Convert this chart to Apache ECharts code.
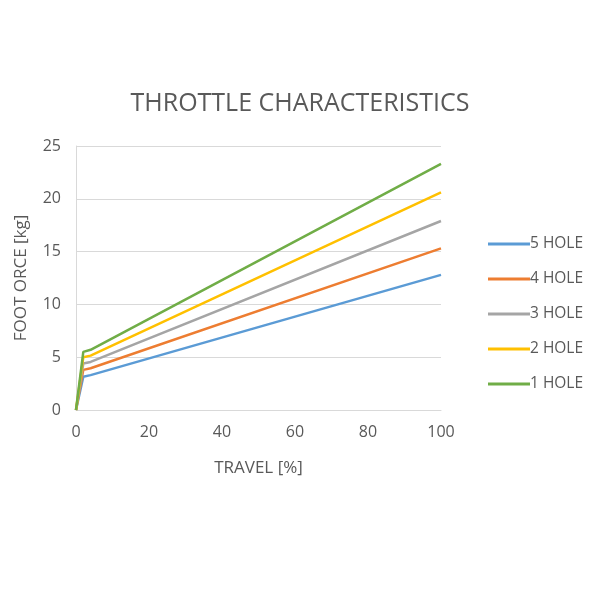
<!DOCTYPE html>
<html><head><meta charset="utf-8">
<script src="https://cdn.jsdelivr.net/npm/echarts@6/dist/echarts.min.js"></script>
<style>html,body{margin:0;padding:0;background:#fff}#c{width:600px;height:600px}</style>
</head><body><div id="c"></div>
<script>
const travel = [0, 2, 4, 100];
const hole5 = [0, 3.15, 3.3, 12.8];
const hole4 = [0, 3.8, 3.95, 15.3];
const hole3 = [0, 4.4, 4.55, 17.9];
const hole2 = [0, 5.0, 5.15, 20.6];
const hole1 = [0, 5.5, 5.7, 23.3];
const seriesNames = ['5 HOLE', '4 HOLE', '3 HOLE', '2 HOLE', '1 HOLE'];
const seriesData = [hole5, hole4, hole3, hole2, hole1];
const colors = ['#5b9bd5', '#ed7d31', '#a5a5a5', '#ffc000', '#70ad47'];
const font = 'Open Sans';
const chart = echarts.init(document.getElementById('c'));
chart.setOption({
  animation: false,
  color: colors,
  title: {text: 'THROTTLE CHARACTERISTICS', left: 295, top: 86, textAlign: 'center',
    textStyle: {fontFamily: font, fontSize: 25, fontWeight: 'normal', color: '#595959'}},
  grid: {left: 76, right: 159, top: 146, bottom: 190},
  legend: {orient: 'vertical', left: 483, top: 230, itemWidth: 42, itemHeight: 3, itemGap: 17, icon: 'rect',
    textStyle: {fontFamily: font, fontSize: 15.5, lineHeight: 18, color: '#595959', padding: [0,0,0,-5]},
    data: seriesNames},
  xAxis: {type: 'value', min: 0, max: 100, interval: 20, name: 'TRAVEL [%]', nameLocation: 'middle', nameGap: 50,
    nameTextStyle: {fontFamily: font, fontSize: 17, color: '#595959'},
    axisLine: {lineStyle: {color: '#d9d9d9'}}, axisTick: {show: false},
    axisLabel: {fontFamily: font, fontSize: 16, color: '#595959', margin: 14},
    splitLine: {show: false}},
  yAxis: {type: 'value', min: 0, max: 25, interval: 5, name: 'FOOT ORCE [kg]', nameLocation: 'middle', nameGap: 46,
    nameTextStyle: {fontFamily: font, fontSize: 17, color: '#595959'},
    axisLine: {show: true, lineStyle: {color: '#d9d9d9'}}, axisTick: {show: false},
    axisLabel: {fontFamily: font, fontSize: 16, color: '#595959', margin: 15},
    splitLine: {lineStyle: {color: '#d9d9d9'}}},
  series: seriesNames.map((n, i) => ({
    name: n, type: 'line', symbol: 'none', lineStyle: {width: 2.5},
    data: travel.map((t, j) => [t, seriesData[i][j]])
  }))
});
</script></body></html>
